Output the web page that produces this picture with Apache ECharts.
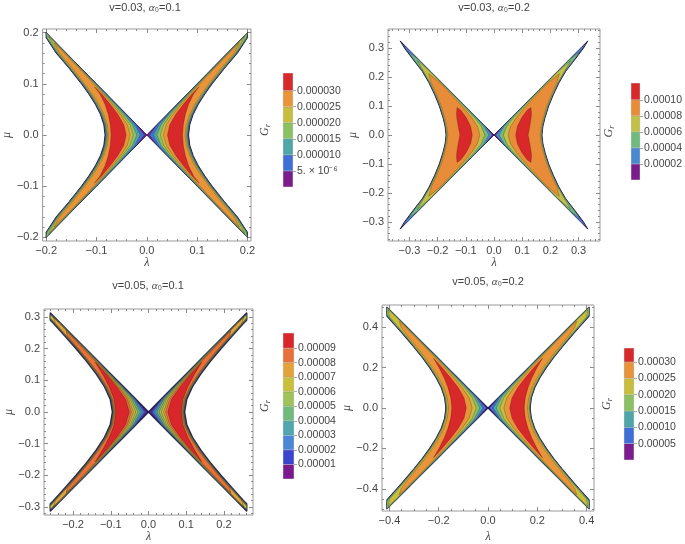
<!DOCTYPE html>
<html><head><meta charset="utf-8">
<script src="https://cdn.jsdelivr.net/npm/echarts@6/dist/echarts.min.js"></script>
<style>html,body{margin:0;padding:0;background:#fff}#c{width:685px;height:544px}</style>
</head><body><div id="c"></div>
<script>
// ---------------- DATA ----------------
// Panel 1: v=0.03, alpha0=0.1  (upper-right quadrant boundaries of each super-level region)
const p1Rows = [0, 0.02, 0.04, 0.06, 0.08, 0.10, 0.13, 0.16, 0.19];
const p1Inner = [
  [0, 0.02, 0.04, 0.06, 0.08, 0.10, 0.13, 0.16, 0.19],
  [0.005, 0.0206, 0.0403, 0.0602, 0.0802, 0.1001, 0.1301, 0.1601, 0.1901],
  [0.013, 0.0239, 0.0421, 0.0614, 0.081, 0.1008, 0.1306, 0.1605, 0.1904],
  [0.020, 0.0283, 0.0447, 0.0632, 0.0825, 0.102, 0.1315, 0.1612, 0.191],
  [0.027, 0.0336, 0.0483, 0.0658, 0.0844, 0.1036, 0.1328, 0.1623],
  [0.033, 0.0386, 0.0519, 0.0685, 0.0865, 0.1053, 0.1341, 0.1634],
  [0.041, 0.0456, 0.0573, 0.0727, 0.0899]
];
const p1Outer = [
  [0.083, 0.0854, 0.0921, 0.1024, 0.1153, 0.130, 0.1542, 0.1802, 0.200],
  [0.082, 0.0845, 0.0913, 0.1016, 0.1145, 0.1292, 0.1535, 0.1795, 0.1995],
  [0.081, 0.0835, 0.0903, 0.1007, 0.1136, 0.1283, 0.1527, 0.1787, 0.199],
  [0.0795, 0.082, 0.089, 0.0993, 0.1123, 0.127, 0.1515, 0.1775, 0.198],
  [0.078, 0.0805, 0.0875, 0.0978, 0.1108, 0.1258, 0.150, 0.176],
  [0.076, 0.0785, 0.0855, 0.0955, 0.1085, 0.1235, 0.1475, 0.1735],
  [0.071, 0.0725, 0.0765, 0.083, 0.093]
];
const p1Tips = [[[0.2, 0.2]], [[0.2, 0.2]], [[0.2, 0.2]], [[0.2, 0.2]], [[0.195, 0.193]], [[0.184, 0.180]], [[0.104, 0.094]]];
const p1Levels = [0, 5e-6, 1e-5, 1.5e-5, 2e-5, 2.5e-5, 3e-5];
const p1LevelTop = 3.55e-5;
const p1LevelLabels = ['5. \u00d7 10\u207b\u2076', '0.000010', '0.000015', '0.000020', '0.000025', '0.000030'];
const p1XTicks = [-0.2, -0.1, 0, 0.1, 0.2];
const p1XLabels = ['\u22120.2', '\u22120.1', '0.0', '0.1', '0.2'];
const p1YTicks = [-0.2, -0.1, 0, 0.1, 0.2];
const p1YLabels = ['\u22120.2', '\u22120.1', '0.0', '0.1', '0.2'];

// Panel 2: v=0.03, alpha0=0.2
const p2Rows = [0, 0.03, 0.06, 0.1, 0.14, 0.18, 0.22, 0.26, 0.30];
const p2Inner = [
  [0, 0.0308, 0.0615, 0.1025, 0.1435, 0.1845, 0.2255, 0.2665, 0.3075],
  [0.006, 0.0314, 0.0618, 0.1027, 0.1436, 0.1846, 0.2256, 0.2666, 0.3076],
  [0.018, 0.0357, 0.0641, 0.1041, 0.1446, 0.1854, 0.2262, 0.2671],
  [0.033, 0.0451, 0.0698, 0.1077, 0.1472, 0.1874, 0.2279],
  [0.050, 0.0587, 0.0789, 0.1140, 0.1520, 0.1912],
  [0.077, 0.0829, 0.0985]
];
const p2Outer = [
  [0.170, 0.1735, 0.181, 0.194, 0.211, 0.2305, 0.2545, 0.2865, 0.3175],
  [0.1695, 0.173, 0.1803, 0.193, 0.2098, 0.2295, 0.2535, 0.2852, 0.315],
  [0.1685, 0.172, 0.1795, 0.192, 0.2088, 0.2285, 0.2525, 0.2838],
  [0.167, 0.1705, 0.178, 0.1905, 0.207, 0.2265, 0.250],
  [0.164, 0.1675, 0.175, 0.187, 0.2035, 0.2225],
  [0.121, 0.127, 0.132]
];
const p2Tips = [[[0.333, 0.325]], [[0.328, 0.318]], [[0.305, 0.288]], [[0.272, 0.257]], [[0.232, 0.212]], [[0.117, 0.085], [0.131, 0.095], [0.133, 0.075]]];
const p2Levels = [0, 2e-5, 4e-5, 6e-5, 8e-5, 1e-4];
const p2LevelTop = 1.21e-4;
const p2LevelLabels = ['0.00002', '0.00004', '0.00006', '0.00008', '0.00010'];
const p2XTicks = [-0.3, -0.2, -0.1, 0, 0.1, 0.2, 0.3];
const p2XLabels = ['\u22120.3', '\u22120.2', '\u22120.1', '0.0', '0.1', '0.2', '0.3'];
const p2YTicks = [-0.3, -0.2, -0.1, 0, 0.1, 0.2, 0.3];
const p2YLabels = ['\u22120.3', '\u22120.2', '\u22120.1', '0.0', '0.1', '0.2', '0.3'];

// Panel 3: v=0.05, alpha0=0.1
const p3Rows = [0, 0.04, 0.08, 0.12, 0.16, 0.20, 0.24, 0.28];
const p3Inner = [
  [0, 0.0333, 0.0667, 0.1, 0.1333, 0.1667, 0.2, 0.2333],
  [0.005, 0.0337, 0.0669, 0.1001, 0.1334, 0.1668, 0.2001, 0.2334],
  [0.011, 0.0351, 0.0676, 0.1006, 0.1338, 0.1671, 0.2003, 0.2336],
  [0.017, 0.0374, 0.0688, 0.1014, 0.1344, 0.1676, 0.2007, 0.2339],
  [0.022, 0.0399, 0.0702, 0.1024, 0.1351, 0.1681, 0.2012, 0.2343],
  [0.028, 0.0435, 0.0723, 0.1038, 0.1362, 0.169, 0.202, 0.235],
  [0.034, 0.0476, 0.0749, 0.1056, 0.1376, 0.1701, 0.2029, 0.2358],
  [0.040, 0.052, 0.0778, 0.1077, 0.1392, 0.1714, 0.204, 0.2367],
  [0.045, 0.056, 0.0805, 0.1098, 0.1408, 0.1727, 0.205],
  [0.051, 0.0611, 0.0844, 0.1124]
];
const p3Outer = [
  [0.0955, 0.1011, 0.1165, 0.1383, 0.164, 0.192, 0.2217, 0.252],
  [0.0949, 0.1005, 0.1159, 0.1377, 0.1634, 0.1914, 0.2211, 0.2514],
  [0.0943, 0.0999, 0.1153, 0.1371, 0.1628, 0.1908, 0.2205, 0.2508],
  [0.0937, 0.0993, 0.1147, 0.1365, 0.1622, 0.1902, 0.2199, 0.2502],
  [0.093, 0.0986, 0.114, 0.1358, 0.1615, 0.1895, 0.2192, 0.2495],
  [0.0923, 0.0979, 0.1133, 0.1351, 0.1608, 0.1888, 0.2185, 0.2488],
  [0.0915, 0.0971, 0.1125, 0.1343, 0.16, 0.188, 0.2177, 0.248],
  [0.0905, 0.0961, 0.1115, 0.1333, 0.159, 0.187, 0.2167, 0.247],
  [0.089, 0.0946, 0.11, 0.1318, 0.1575, 0.1855, 0.2152],
  [0.0867, 0.091, 0.104, 0.122]
];
const p3Tips = [
  [[0.26, 0.312], [0.26, 0.290]], [[0.26, 0.311], [0.26, 0.291]], [[0.26, 0.31], [0.26, 0.292]],
  [[0.26, 0.309], [0.26, 0.293]], [[0.26, 0.308], [0.26, 0.294]], [[0.26, 0.307], [0.26, 0.295]],
  [[0.26, 0.306], [0.26, 0.297]], [[0.252, 0.298]], [[0.218, 0.256]], [[0.141, 0.157]]
];
const p3Levels = [0, 1e-5, 2e-5, 3e-5, 4e-5, 5e-5, 6e-5, 7e-5, 8e-5, 9e-5];
const p3LevelTop = 1.004e-4;
const p3LevelLabels = ['0.00001', '0.00002', '0.00003', '0.00004', '0.00005', '0.00006', '0.00007', '0.00008', '0.00009'];
const p3XTicks = [-0.2, -0.1, 0, 0.1, 0.2];
const p3XLabels = ['\u22120.2', '\u22120.1', '0.0', '0.1', '0.2'];
const p3YTicks = [-0.3, -0.2, -0.1, 0, 0.1, 0.2, 0.3];
const p3YLabels = ['\u22120.3', '\u22120.2', '\u22120.1', '0.0', '0.1', '0.2', '0.3'];

// Panel 4: v=0.05, alpha0=0.2
const p4Rows = [0, 0.05, 0.1, 0.15, 0.2, 0.25, 0.3, 0.35, 0.4, 0.45];
const p4Inner = [
  [0, 0.041, 0.082, 0.123, 0.164, 0.2049, 0.2459, 0.2869, 0.3279, 0.3689],
  [0.007, 0.0416, 0.0823, 0.1232, 0.1641, 0.205, 0.246, 0.287, 0.328, 0.369],
  [0.021, 0.0461, 0.0846, 0.1248, 0.1653, 0.206, 0.2468, 0.2877, 0.3286, 0.3695],
  [0.034, 0.0533, 0.0888, 0.1276, 0.1675, 0.2077, 0.2482, 0.289, 0.3297, 0.3705],
  [0.048, 0.0631, 0.095, 0.132, 0.1709, 0.2105, 0.2506, 0.291, 0.3314, 0.372],
  [0.064, 0.076, 0.104, 0.1386, 0.176, 0.2147, 0.2541, 0.2941, 0.3341],
  [0.088, 0.0971, 0.1202, 0.1515, 0.1865]
];
const p4Outer = [
  [0.171, 0.1758, 0.1896, 0.2105, 0.2367, 0.2668, 0.2996, 0.3341, 0.37, 0.4068],
  [0.1703, 0.1752, 0.189, 0.2098, 0.236, 0.266, 0.2988, 0.3333, 0.3692, 0.406],
  [0.1695, 0.1745, 0.1882, 0.209, 0.2352, 0.2652, 0.298, 0.3325, 0.3683, 0.405],
  [0.168, 0.173, 0.1868, 0.2075, 0.2337, 0.2637, 0.2963, 0.3308, 0.3665, 0.4033],
  [0.166, 0.171, 0.185, 0.2055, 0.2317, 0.2615, 0.294, 0.328, 0.3635, 0.399],
  [0.160, 0.165, 0.179, 0.1995, 0.2255, 0.2555, 0.288, 0.322, 0.352],
  [0.147, 0.151, 0.162, 0.178, 0.199]
];
const p4Tips = [[[0.41, 0.5], [0.41, 0.4546]], [[0.41, 0.5], [0.41, 0.456]], [[0.41, 0.5], [0.41, 0.458]], [[0.41, 0.499], [0.41, 0.462]], [[0.405, 0.487]], [[0.36, 0.43]], [[0.221, 0.246]]];
const p4Levels = [0, 5e-5, 1e-4, 1.5e-4, 2e-4, 2.5e-4, 3e-4];
const p4LevelTop = 3.43e-4;
const p4LevelLabels = ['0.00005', '0.00010', '0.00015', '0.00020', '0.00025', '0.00030'];
const p4XTicks = [-0.4, -0.2, 0, 0.2, 0.4];
const p4XLabels = ['\u22120.4', '\u22120.2', '0.0', '0.2', '0.4'];
const p4YTicks = [-0.4, -0.2, 0, 0.2, 0.4];
const p4YLabels = ['\u22120.4', '\u22120.2', '0.0', '0.2', '0.4'];

const titles = ['v=0.03, ', 'v=0.03, ', 'v=0.05, ', 'v=0.05, '];
const titleTails = ['\u2080=0.1', '\u2080=0.2', '\u2080=0.1', '\u2080=0.2'];

// ---------------- STYLE ----------------
const pal7 = ['#7a1e8e', '#3f6fd6', '#4fa6a8', '#8cc064', '#c7bd3f', '#e9933a', '#d7282a'];
const pal6 = ['#7a1e8e', '#4a88d2', '#6fba7c', '#c2c046', '#e88c3a', '#d8282a'];
const pal10 = ['#7a1a8c', '#3a44cc', '#4a86d8', '#52a6b0', '#6fba7c', '#9fc25a', '#c9be3e', '#e3a23c', '#e8703a', '#d8262a'];
const FONT = '"Liberation Sans", Arial, sans-serif';
const SERIF = '"Liberation Serif", "DejaVu Serif", serif';

const panels = [
  {rows: p1Rows, inner: p1Inner, outer: p1Outer, tips: p1Tips, levels: p1Levels, top: p1LevelTop, lvLabels: p1LevelLabels,
   xt: p1XTicks, xl: p1XLabels, yt: p1YTicks, yl: p1YLabels, colors: pal7, edge: 1, line: 0.42,
   grid: {left: 39, top: 29, width: 212, height: 212}, xr: [-0.207, 0.207], yr: [-0.207, 0.207], xm: 0.02, ym: 0.02,
   cb: {left: 283, top: 73, width: 10, height: 114}, xGap: 14, yGap: 22, gGap: 11, title: [145, 8]},
  {rows: p2Rows, inner: p2Inner, outer: p2Outer, tips: p2Tips, levels: p2Levels, top: p2LevelTop, lvLabels: p2LevelLabels,
   xt: p2XTicks, xl: p2XLabels, yt: p2YTicks, yl: p2YLabels, colors: pal6, edge: 1, line: 0.42,
   grid: {left: 388, top: 29, width: 212, height: 212}, xr: [-0.376, 0.376], yr: [-0.366, 0.366], xm: 0.02, ym: 0.02,
   cb: {left: 631, top: 83, width: 11, height: 97}, xGap: 11, yGap: 24, gGap: 15, title: [494, 8]},
  {rows: p3Rows, inner: p3Inner, outer: p3Outer, tips: p3Tips, levels: p3Levels, top: p3LevelTop, lvLabels: p3LevelLabels,
   xt: p3XTicks, xl: p3XLabels, yt: p3YTicks, yl: p3YLabels, colors: pal10, edge: 1.6, line: 0.55,
   grid: {left: 44, top: 309, width: 209, height: 206}, xr: [-0.277, 0.277], yr: [-0.325, 0.325], xm: 0.02, ym: 0.02,
   cb: {left: 283, top: 333, width: 11, height: 146}, xGap: 15, yGap: 27, gGap: 11, title: [148, 286]},
  {rows: p4Rows, inner: p4Inner, outer: p4Outer, tips: p4Tips, levels: p4Levels, top: p4LevelTop, lvLabels: p4LevelLabels,
   xt: p4XTicks, xl: p4XLabels, yt: p4YTicks, yl: p4YLabels, colors: pal7, edge: 1.1, line: 0.42,
   grid: {left: 382, top: 305, width: 212, height: 206}, xr: [-0.43, 0.43], yr: [-0.51, 0.51], xm: 0.05, ym: 0.05,
   cb: {left: 624, top: 348, width: 10, height: 112}, xGap: 20, yGap: 25, gGap: 10, title: [488, 282]}
];

// ---------------- BUILD ----------------
function minorsOf(range, step, majors) {
  const out = [];
  const s = Math.ceil(range[0] / step - 1e-9), e = Math.floor(range[1] / step + 1e-9);
  for (let k = s; k <= e; k++) {
    const v = +(k * step).toFixed(6);
    if (!majors.some(m => Math.abs(m - v) < 1e-9)) out.push(v);
  }
  return out;
}
function labelOf(majors, labels, v) {
  const i = majors.findIndex(m => Math.abs(m - v) < 1e-9);
  return i >= 0 ? labels[i] : '';
}
function addAxes(list, dim, gi, range, majors, labels, minorStep, name, nameGap) {
  const sides = dim === 'x' ? ['bottom', 'top'] : ['left', 'right'];
  const minors = minorsOf(range, minorStep, majors);
  const base = list.length;
  sides.forEach((side, k) => {
    list.push({
      type: 'value', gridIndex: gi, position: side, min: range[0], max: range[1],
      axisLine: {show: false, onZero: false}, splitLine: {show: false},
      axisTick: {show: true, inside: true, length: 4, customValues: majors, lineStyle: {color: '#8a8a8a', width: 1}},
      axisLabel: k === 0 ? {show: true, customValues: majors, margin: 4, color: '#444', fontSize: 11, fontFamily: FONT,
        formatter: v => labelOf(majors, labels, v)} : {show: false},
      name: k === 0 ? name : '', nameLocation: 'middle', nameGap: nameGap, nameRotate: dim === 'y' ? 90 : 0,
      nameTextStyle: {fontStyle: 'italic', fontSize: 12, color: '#444', fontFamily: SERIF}
    });
    list.push({
      type: 'value', gridIndex: gi, position: side, min: range[0], max: range[1],
      axisLine: {show: false, onZero: false}, splitLine: {show: false},
      axisTick: {show: true, inside: true, length: 2, customValues: minors, lineStyle: {color: '#8a8a8a', width: 1}},
      axisLabel: {show: false}
    });
  });
  return base;
}
function quadrant(rows, inn, out, tip) {
  const up = [];
  for (let i = 0; i < inn.length; i++) up.push([inn[i], rows[i]]);
  tip.forEach(p => up.push(p));
  for (let i = out.length - 1; i >= 0; i--) up.push([out[i], rows[i]]);
  const low = up.slice(1, up.length - 1).reverse().map(p => [p[0], -p[1]]);
  return up.concat(low);
}

const grids = [], xAxes = [], yAxes = [], series = [], graphics = [];
panels.forEach((P, n) => {
  const gi = grids.length;
  grids.push(Object.assign({show: true, borderColor: '#9a9a9a', borderWidth: 1, backgroundColor: 'transparent'}, P.grid));
  const xi = addAxes(xAxes, 'x', gi, P.xr, P.xt, P.xl, P.xm, '\u03bb', P.xGap);
  const yi = addAxes(yAxes, 'y', gi, P.yr, P.yt, P.yl, P.ym, '\u03bc', P.yGap);
  const polys = [];
  P.levels.forEach((lv, k) => {
    const q = quadrant(P.rows, P.inner[k], P.outer[k], P.tips[k]);
    const style = k === 0 ? {stroke: 'rgba(22,22,60,0.88)', lw: P.edge} : {stroke: 'rgba(40,22,22,' + P.line + ')', lw: 0.6};
    polys.push({pts: q, fill: P.colors[k], stroke: style.stroke, lw: style.lw});
    polys.push({pts: q.map(p => [-p[0], p[1]]), fill: P.colors[k], stroke: style.stroke, lw: style.lw});
  });
  series.push({
    type: 'custom', coordinateSystem: 'cartesian2d', xAxisIndex: xi, yAxisIndex: yi, clip: false, silent: true,
    data: polys.map((p, i) => [i]),
    renderItem: (params, api) => {
      const p = polys[api.value(0)];
      return {type: 'polygon', shape: {points: p.pts.map(q => api.coord(q))},
        style: {fill: p.fill, stroke: p.stroke, lineWidth: p.lw, lineJoin: 'round'}};
    }
  });
  // colour bar
  const cg = grids.length;
  grids.push(Object.assign({show: false}, P.cb));
  const cx = xAxes.length;
  xAxes.push({type: 'category', gridIndex: cg, data: ['G'], show: false});
  const cy = yAxes.length;
  const marks = P.levels.slice(1);
  yAxes.push({type: 'value', gridIndex: cg, position: 'right', min: 0, max: P.top,
    axisLine: {show: false, onZero: false}, splitLine: {show: false},
    axisTick: {show: true, inside: false, length: 3, customValues: marks, lineStyle: {color: '#aaa'}},
    axisLabel: {show: true, customValues: marks, margin: 4, fontSize: 10.5, color: '#444', fontFamily: FONT,
      formatter: v => labelOf(marks, P.lvLabels, v)}});
  yAxes.push({type: 'value', gridIndex: cg, position: 'left', min: 0, max: P.top,
    axisLine: {show: false, onZero: false}, axisTick: {show: false}, axisLabel: {show: false}, splitLine: {show: false},
    name: '{g|G}{r|r}', nameLocation: 'middle', nameGap: P.gGap, nameRotate: 90,
    nameTextStyle: {rich: {
      g: {fontStyle: 'italic', fontSize: 12, fontFamily: SERIF, color: '#444', lineHeight: 14},
      r: {fontStyle: 'italic', fontSize: 8, fontFamily: SERIF, color: '#444', lineHeight: 8, verticalAlign: 'bottom'}
    }}});
  P.levels.forEach((lv, k) => {
    const next = k + 1 < P.levels.length ? P.levels[k + 1] : P.top;
    series.push({type: 'bar', xAxisIndex: cx, yAxisIndex: cy, stack: 'cb' + n, data: [next - lv], barWidth: '100%',
      silent: true, itemStyle: {color: P.colors[k], borderColor: 'rgba(0,0,0,0.18)', borderWidth: 0.5}});
  });
  graphics.push({type: 'text', x: P.title[0], y: P.title[1], silent: true,
    style: {text: '{t|' + titles[n] + '}{a|\u03b1}{t|' + titleTails[n] + '}', align: 'center', verticalAlign: 'middle',
      rich: {t: {fontSize: 11, fontFamily: FONT, fill: '#444'}, a: {fontSize: 11, fontStyle: 'italic', fontFamily: SERIF, fill: '#444'}}}});
});

const chart = echarts.init(document.getElementById('c'), null, {renderer: 'canvas'});
chart.setOption({animation: false, backgroundColor: '#fff', grid: grids, xAxis: xAxes, yAxis: yAxes, series: series, graphic: graphics});
</script></body></html>
